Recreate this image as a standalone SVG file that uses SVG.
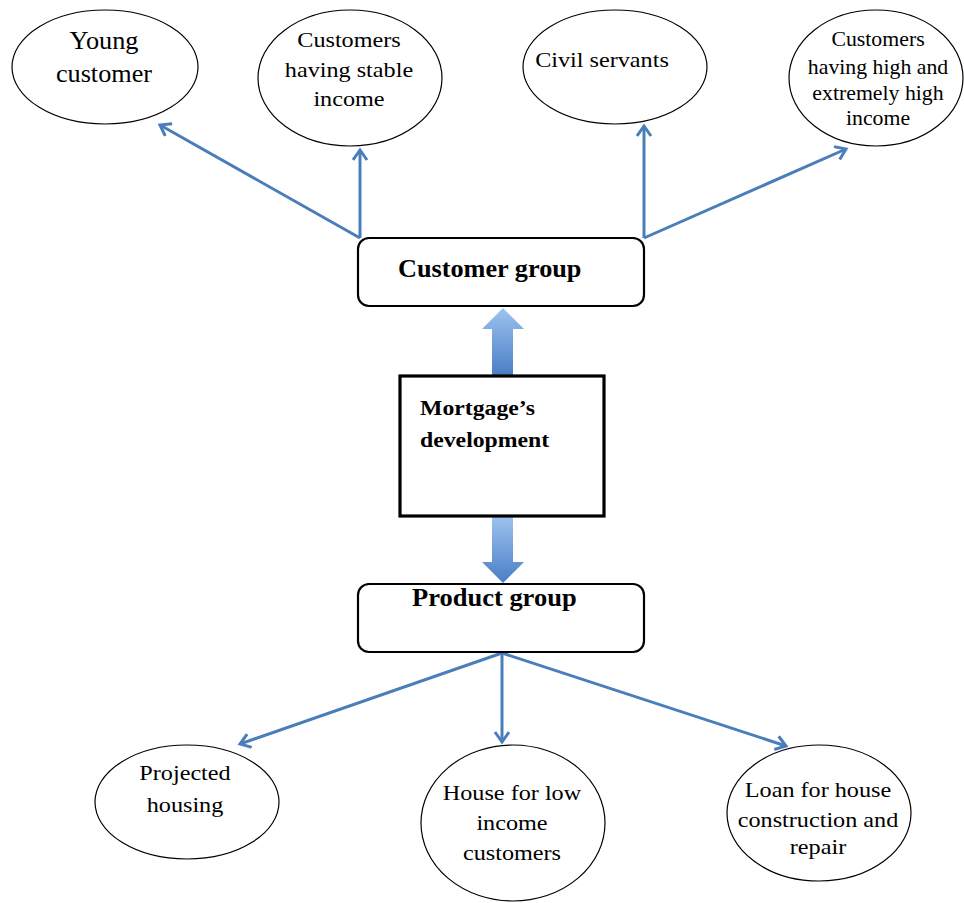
<svg xmlns="http://www.w3.org/2000/svg" width="964" height="903" viewBox="0 0 964 903">
<style>
.ell{fill:#fff;stroke:#000;stroke-width:1.2}
.box{fill:#fff;stroke:#000;stroke-width:2.2}
text{font-family:'Liberation Serif','Times New Roman','DejaVu Serif',serif;fill:#000}
.t{font-size:22px;text-anchor:middle}
.b{font-size:25px;font-weight:bold}
.c{fill:none;stroke:#4a7ebb;stroke-width:3;marker-end:url(#ah)}
</style>
<defs>
<marker id="ah" markerUnits="userSpaceOnUse" markerWidth="20" markerHeight="20" refX="11" refY="8" orient="auto">
<path d="M1,1 L11,8 L1,15" fill="none" stroke="#4a7ebb" stroke-width="3"/>
</marker>
<linearGradient id="bg" x1="0" y1="0" x2="0" y2="1">
<stop offset="0" stop-color="#9dc3f0"/>
<stop offset="1" stop-color="#4a7ec4"/>
</linearGradient>
</defs>
<rect width="964" height="903" fill="#fff"/>
<g id="connectors">
<path class="c" d="M360,238 L160,125"/>
<path class="c" d="M360,238 L360,150"/>
<path class="c" d="M644,238 L644,126"/>
<path class="c" d="M644,238 L846,149"/>
<path class="c" d="M502,653 L240,744"/>
<path class="c" d="M502,653 L502,742"/>
<path class="c" d="M502,653 L786,746"/>
<path d="M492,375 L492,329 L482,329 L503,308 L524,329 L513,329 L513,375 Z" fill="url(#bg)"/>
<path d="M492,516 L492,562 L482,562 L503,583 L524,562 L513,562 L513,516 Z" fill="url(#bg)"/>
</g>
<g id="young">
<ellipse class="ell" cx="105" cy="67" rx="93" ry="57"/>
<g transform="matrix(1.05,0,0,1,-5.2,0)">
<text class="t" style="font-size:25px" x="104" y="49">Young</text>
<text class="t" style="font-size:25px" x="104" y="82">customer</text>
</g>
</g>
<g id="stable">
<ellipse class="ell" cx="350" cy="78" rx="92" ry="68"/>
<g transform="matrix(1.1,0,0,1,-34.9,0)">
<text class="t" x="349" y="47">Customers</text>
<text class="t" x="349" y="77">having stable</text>
<text class="t" x="349" y="106">income</text>
</g>
</g>
<g id="civil">
<ellipse class="ell" cx="615" cy="67" rx="92" ry="57"/>
<g transform="matrix(1.1,0,0,1,-60.2,0)">
<text class="t" x="602" y="67">Civil servants</text>
</g>
</g>
<g id="high">
<ellipse class="ell" cx="876" cy="78" rx="87" ry="68"/>
<g transform="matrix(1.09,0,0,1,-79,0)">
<text class="t" style="font-size:20px" x="878" y="46">Customers</text>
<text class="t" style="font-size:20px" x="878" y="74">having high and</text>
<text class="t" style="font-size:20px" x="878" y="100">extremely high</text>
<text class="t" style="font-size:20px" x="878" y="125">income</text>
</g>
</g>
<g id="customer-group">
<rect class="box" x="358" y="238" width="286" height="68" rx="11"/>
<text class="b" x="398" y="277" transform="matrix(1.05,0,0,1,-19.9,0)">Customer group</text>
</g>
<g id="mortgage">
<rect x="400" y="376" width="204" height="140" fill="#fff" stroke="#000" stroke-width="3.2"/>
<g transform="matrix(1.08,0,0,1,-33.6,0)">
<text class="b" style="font-size:22px" x="420" y="415">Mortgage’s</text>
<text class="b" style="font-size:22px" x="420" y="447">development</text>
</g>
</g>
<g id="product-group">
<rect class="box" x="358" y="584" width="286" height="68" rx="11"/>
<text class="b" x="412" y="606" transform="matrix(1.06,0,0,1,-24.7,0)">Product group</text>
</g>
<g id="projected">
<ellipse class="ell" cx="187" cy="802" rx="92" ry="57"/>
<g transform="matrix(1.1,0,0,1,-18.5,0)">
<text class="t" x="185" y="780">Projected</text>
<text class="t" x="185" y="812">housing</text>
</g>
</g>
<g id="lowincome">
<ellipse class="ell" cx="513" cy="823" rx="92" ry="78"/>
<g transform="matrix(1.1,0,0,1,-51.2,0)">
<text class="t" x="512" y="800">House for low</text>
<text class="t" x="512" y="830">income</text>
<text class="t" x="512" y="860">customers</text>
</g>
</g>
<g id="loan">
<ellipse class="ell" cx="819" cy="813" rx="92" ry="68"/>
<g transform="matrix(1.1,0,0,1,-81.8,0)">
<text class="t" x="818" y="797">Loan for house</text>
<text class="t" x="818" y="827">construction and</text>
<text class="t" x="818" y="854">repair</text>
</g>
</g>
</svg>
